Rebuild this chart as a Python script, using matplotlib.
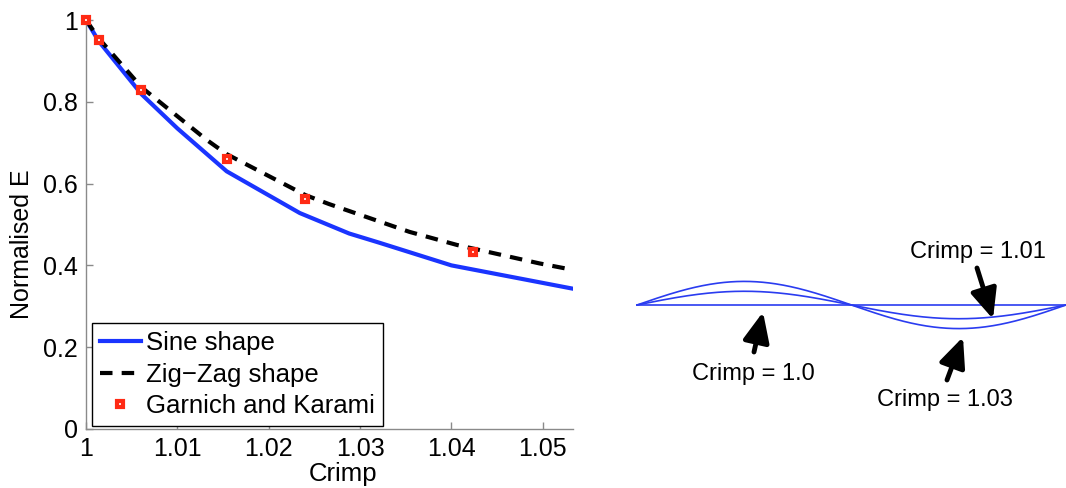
import numpy as np
import matplotlib
matplotlib.use("Agg")
import matplotlib.pyplot as plt

plt.rcParams['font.family'] = ['Liberation Sans', 'DejaVu Sans']

# ---- data ----
sine_x = [1.0, 1.0014, 1.0061, 1.0100, 1.0154, 1.0234, 1.0288, 1.0321, 1.0400, 1.0533]
sine_y = [1.0, 0.948, 0.818, 0.735, 0.630, 0.528, 0.478, 0.4555, 0.400, 0.343]

zig_x = [1.0, 1.0014, 1.0061, 1.0132, 1.0154, 1.0240, 1.0266, 1.0354, 1.0406, 1.0496, 1.0533]
zig_y = [1.0, 0.955, 0.835, 0.707, 0.672, 0.572, 0.550, 0.482, 0.450, 0.405, 0.389]

gk_x = [1.0, 1.0014, 1.0060, 1.0154, 1.0240, 1.0424]
gk_y = [1.0, 0.951, 0.829, 0.659, 0.562, 0.4335]

x_ticks = [1.0, 1.01, 1.02, 1.03, 1.04, 1.05]
x_tick_labels = ['1', '1.01', '1.02', '1.03', '1.04', '1.05']
y_ticks = [0, 0.2, 0.4, 0.6, 0.8, 1.0]
y_tick_labels = ['0', '0.2', '0.4', '0.6', '0.8', '1']

# right panel: fibre shapes (amplitude as fraction of wavelength)
shape_amplitudes = [0.0, 0.032, 0.055]
shape_labels = ['Crimp = 1.0', 'Crimp = 1.01', 'Crimp = 1.03']

W, H = 1066, 488
fig = plt.figure(figsize=(W / 100, H / 100), dpi=100)

# ---- left chart ----
ax = fig.add_axes([86 / W, 1 - 429 / H, (573 - 86) / W, (429 - 20) / H])
ax.plot(sine_x, sine_y, color='#1a34ff', lw=3.0, label='Sine shape')
ax.plot(zig_x, zig_y, color='black', lw=3.0, ls=(0, (3.0, 2.2)), label='Zig\u2212Zag shape')
ax.plot(gk_x, gk_y, ls='none', marker='s', ms=4.6, mew=3.0, mec='#ff2a14', mfc='white',
        label='Garnich and Karami', clip_on=False, zorder=5)

ax.set_xlim(1.0, 1.0533)
ax.set_ylim(0, 1)
ax.set_xticks(x_ticks)
ax.set_xticklabels(x_tick_labels)
ax.set_yticks(y_ticks)
ax.set_yticklabels(y_tick_labels)
for s in ['top', 'right']:
    ax.spines[s].set_visible(False)
for s in ['left', 'bottom']:
    ax.spines[s].set_color('#8a8a8a')
    ax.spines[s].set_linewidth(1.0)
ax.tick_params(direction='in', length=5, width=1, color='#8a8a8a', labelsize=18, pad=6)
ax.set_xlabel('Crimp', fontsize=18.5)
ax.xaxis.set_label_coords((343 - 86) / 487, (429 - 474) / 409)
ax.xaxis.label.set_va('center')
ax.set_ylabel('Normalised E', fontsize=18)
ax.yaxis.set_label_coords((22 - 86) / 487, (429 - 244) / 409)
ax.yaxis.label.set_va('center')

leg = ax.legend(loc='lower left', bbox_to_anchor=((92 - 86) / 487, (429 - 426) / 409),
                fontsize=18.5, frameon=True, fancybox=False, framealpha=1,
                edgecolor='black', handlelength=1.6, handletextpad=0.2,
                labelspacing=0.3, borderpad=0.3, borderaxespad=0)
leg.get_frame().set_linewidth(1.0)

# ---- right illustration ----
ax2 = fig.add_axes([637 / W, 1 - 433.7 / H, (W - 637) / W, 257.4 / H])
ax2.set_xlim(0, 1)
ax2.set_ylim(-0.3, 0.3)
ax2.axis('off')
t = np.linspace(0, 1, 400)
for a in shape_amplitudes:
    ax2.plot(t, a * np.sin(2 * np.pi * t), color='#2a3cf0', lw=1.2, clip_on=False)

def px(x, y):
    return ((x - 637) / 429, (305 - y) / 429)

label_pos = [(753, 374), (978, 252), (945, 400)]
arrow_tail = [(754, 352), (977, 268), (947, 380)]
arrow_tip = [(763, 312), (993, 319), (963, 337)]
for lab, lp, tl, tp in zip(shape_labels, label_pos, arrow_tail, arrow_tip):
    ax2.text(*px(*lp), lab, fontsize=17, ha='center', va='center')
    ax2.annotate('', xy=px(*tp), xytext=px(*tl),
                 arrowprops=dict(arrowstyle='-|>,head_length=0.9,head_width=0.4',
                                 lw=3.5, color='black', shrinkA=0, shrinkB=0,
                                 mutation_scale=20))

fig.savefig('out.png', dpi=100)
